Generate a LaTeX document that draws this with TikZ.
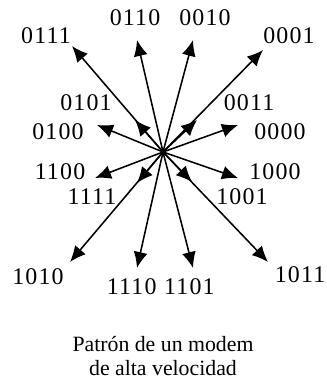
\documentclass[tikz,border=0pt]{standalone}
\usepackage{fontspec}
\setmainfont{Liberation Serif}
\newfontfamily\codefont[LetterSpace=5]{Liberation Serif}
\usetikzlibrary{arrows.meta}

\tikzset{
  code/.style={font=\fontsize{17}{19}\codefont, inner sep=0pt},
  ray/.style={line width=1.1pt, -{Latex[length=4mm,width=3.5mm]}}
}

\begin{document}
\begin{tikzpicture}[>=Latex]
    \useasboundingbox (-4.075,3.8) rectangle (4.1,-5.875);
    \coordinate (c) at (0,0);

    % upper half
    \coordinate (t0111) at (-2.275,2.65);  \node[code] (l0111) at (-2.925,2.9) {0111};
    \coordinate (t0110) at (-0.65,2.8);    \node[code] (l0110) at (-0.7,3.35) {0110};
    \coordinate (t0010) at (0.75,2.8);     \node[code] (l0010) at (1.05,3.35) {0010};
    \coordinate (t0001) at (2.5,2.55);     \node[code] (l0001) at (3.15,2.9) {0001};
    \coordinate (t0101) at (-0.7,0.8);     \node[code] (l0101) at (-1.925,1.225) {0101};
    \coordinate (t0011) at (0.85,0.8);     \node[code] (l0011) at (2.15,1.225) {0011};
    \coordinate (t0100) at (-1.65,0.675);  \node[code] (l0100) at (-2.625,0.5) {0100};
    \coordinate (t0000) at (1.875,0.675);  \node[code] (l0000) at (2.925,0.5) {0000};

    % lower half
    \coordinate (t1100) at (-1.7,-0.65);   \node[code] (l1100) at (-2.575,-0.5) {1100};
    \coordinate (t1000) at (1.875,-0.65);  \node[code] (l1000) at (2.8,-0.5) {1000};
    \coordinate (t1111) at (-0.65,-0.775); \node[code] (l1111) at (-1.775,-1.125) {1111};
    \coordinate (t1001) at (0.725,-0.75);  \node[code] (l1001) at (1.975,-1.125) {1001};
    \coordinate (t1010) at (-2.325,-2.75); \node[code] (l1010) at (-3.125,-3.125) {1010};
    \coordinate (t1110) at (-0.65,-2.9);   \node[code] (l1110) at (-0.78,-3.375) {1110};
    \coordinate (t1101) at (0.75,-2.9);    \node[code] (l1101) at (0.66,-3.375) {1101};
    \coordinate (t1011) at (2.625,-2.75);  \node[code] (l1011) at (3.425,-3.075) {1011};

    \draw[ray] (c) -- (t0111);
    \draw[ray] (c) -- (t0110);
    \draw[ray] (c) -- (t0010);
    \draw[ray] (c) -- (t0001);
    \draw[ray] (c) -- (t0101);
    \draw[ray] (c) -- (t0011);
    \draw[ray] (c) -- (t0100);
    \draw[ray] (c) -- (t0000);
    \draw[ray] (c) -- (t1100);
    \draw[ray] (c) -- (t1000);
    \draw[ray] (c) -- (t1111);
    \draw[ray] (c) -- (t1001);
    \draw[ray] (c) -- (t1010);
    \draw[ray] (c) -- (t1110);
    \draw[ray] (c) -- (t1101);
    \draw[ray] (c) -- (t1011);

    \node[align=center, font=\fontsize{15.5}{17}\selectfont] (title) at (0,-5.09)
      {Patrón de un modem\\de alta velocidad};
\end{tikzpicture}
\end{document}
